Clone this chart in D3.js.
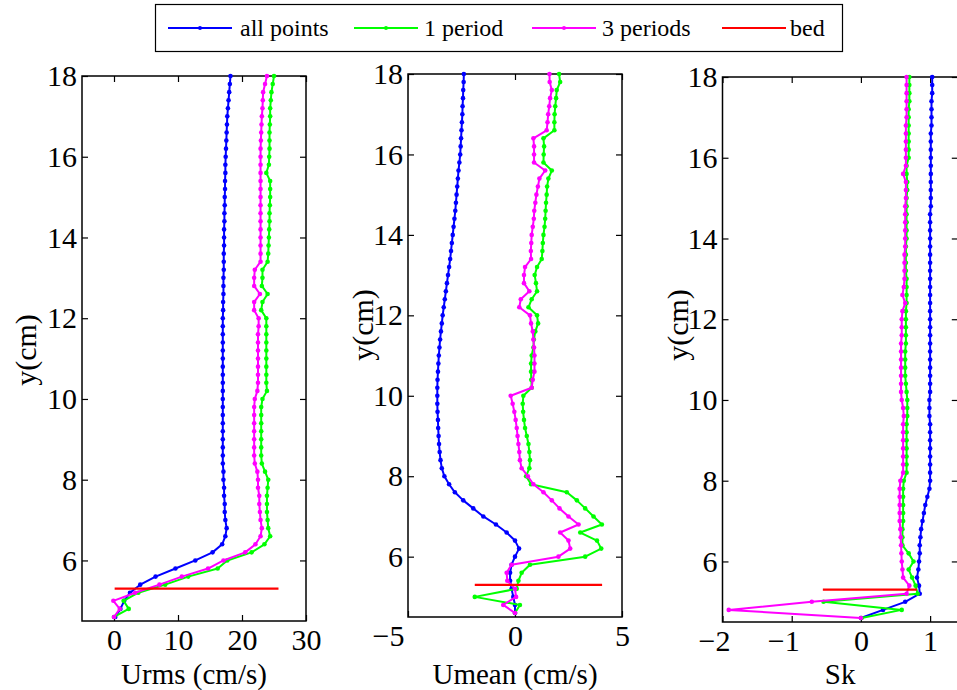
<!DOCTYPE html>
<html>
<head>
<meta charset="utf-8">
<script src="https://cdnjs.cloudflare.com/ajax/libs/d3/7.8.5/d3.min.js"></script>
<style>
  body { margin: 0; background: #fff; }
  svg text { font-family: "Liberation Serif", "Times New Roman", serif; fill: #000; }
</style>
</head>
<body>
<div id="chart"></div>
<script>
// Measurement heights (cm), bottom to top
var yLevels = [4.6, 4.8, 5.0, 5.2, 5.4, 5.6, 5.8, 6.0, 6.2, 6.4,
  6.6, 6.8, 7.0, 7.2, 7.4, 7.6, 7.8, 8.0, 8.2, 8.4,
  8.6, 8.8, 9.0, 9.2, 9.4, 9.6, 9.8, 10.0, 10.2, 10.4,
  10.6, 10.8, 11.0, 11.2, 11.4, 11.6, 11.8, 12.0, 12.2, 12.4,
  12.6, 12.8, 13.0, 13.2, 13.4, 13.6, 13.8, 14.0, 14.2, 14.4,
  14.6, 14.8, 15.0, 15.2, 15.4, 15.6, 15.8, 16.0, 16.2, 16.4,
  16.6, 16.8, 17.0, 17.2, 17.4, 17.6, 17.8, 18.0];

// Urms (cm/s)
var urmsAll = [0.2, 1.0, 1.6, 2.5, 4.1, 6.5, 9.6, 12.7, 15.4, 16.9,
  17.4, 17.6, 17.4, 17.3, 17.3, 17.2, 17.2, 17.1, 17.1, 17.0,
  17.0, 17.0, 17.0, 17.0, 17.0, 17.0, 17.0, 17.0, 17.0, 17.0,
  17.0, 17.0, 17.0, 17.0, 17.0, 17.0, 17.0, 17.0, 17.05, 17.05,
  17.1, 17.1, 17.1, 17.15, 17.15, 17.15, 17.2, 17.2, 17.2, 17.25,
  17.25, 17.3, 17.3, 17.35, 17.35, 17.4, 17.4, 17.45, 17.5, 17.55,
  17.6, 17.65, 17.7, 17.8, 17.9, 18.0, 18.1, 18.2];
var urms1 = [0.0, 2.3, 1.5, 3.8, 8.0, 11.6, 16.2, 17.7, 21.5, 23.5,
  24.4, 24.1, 24.0, 23.9, 23.9, 23.9, 24.0, 24.1, 23.6, 23.1,
  23.0, 23.0, 23.0, 23.0, 23.0, 23.0, 23.0, 23.2, 23.9, 23.8,
  23.8, 23.8, 23.8, 23.8, 23.8, 23.8, 23.8, 23.8, 23.0, 23.2,
  24.0, 23.1, 23.2, 23.2, 24.0, 24.1, 24.15, 24.2, 24.25, 24.3,
  24.3, 24.35, 24.4, 24.4, 24.4, 23.8, 24.2, 24.25, 24.3, 24.3,
  24.3, 24.35, 24.4, 24.4, 24.5, 24.6, 24.8, 25.0];
var urms3 = [0.0, 0.9, -0.1, 3.3, 7.1, 10.6, 14.7, 17.1, 20.5, 22.1,
  22.9, 23.1, 22.9, 22.8, 22.7, 22.7, 22.5, 22.5, 22.4, 22.0,
  21.9, 21.9, 21.9, 21.9, 21.9, 21.9, 21.9, 22.0, 22.4, 22.5,
  22.5, 22.5, 22.5, 22.5, 22.5, 22.5, 22.6, 22.6, 21.9, 21.9,
  22.8, 21.9, 21.9, 22.0, 22.9, 22.9, 22.9, 22.9, 22.9, 22.9,
  22.9, 22.9, 22.9, 22.9, 22.9, 22.9, 22.9, 22.9, 22.9, 22.95,
  23.0, 23.05, 23.1, 23.2, 23.25, 23.3, 23.6, 23.9];

// Umean (cm/s)
var umeanAll = [0.0, 0.0, -0.08, -0.16, -0.23, -0.23, -0.16, 0.0, 0.19, 0.0,
  -0.39, -0.89, -1.48, -1.95, -2.42, -2.81, -3.08, -3.3, -3.42, -3.48,
  -3.52, -3.55, -3.57, -3.59, -3.6, -3.62, -3.63, -3.63, -3.63, -3.62,
  -3.6, -3.58, -3.56, -3.53, -3.5, -3.46, -3.42, -3.38, -3.33, -3.28,
  -3.23, -3.18, -3.13, -3.08, -3.03, -2.99, -2.95, -2.91, -2.87, -2.83,
  -2.79, -2.76, -2.73, -2.7, -2.67, -2.64, -2.6, -2.56, -2.54, -2.52,
  -2.5, -2.48, -2.46, -2.45, -2.43, -2.42, -2.4, -2.39];
var umean1 = [0.0, 0.23, -1.88, 0.08, 0.16, 0.31, 0.70, 3.28, 4.03, 3.83,
  3.05, 4.06, 3.67, 3.28, 2.89, 2.42, 0.75, 0.52, 0.67, 0.7,
  0.67, 0.63, 0.55, 0.47, 0.42, 0.38, 0.36, 0.39, 0.78, 0.76,
  0.75, 0.75, 0.78, 0.86, 0.88, 0.95, 1.08, 1.03, 0.63, 0.78,
  1.03, 0.98, 0.92, 1.03, 1.25, 1.28, 1.3, 1.33, 1.38, 1.41,
  1.43, 1.45, 1.48, 1.5, 1.56, 1.72, 1.33, 1.34, 1.36, 1.33,
  1.84, 1.84, 1.85, 1.88, 1.92, 1.95, 2.11, 2.06];
var umean3 = [0.0, -0.55, 0.05, 0.0, -0.36, -0.39, -0.16, 2.03, 2.58, 2.5,
  2.11, 2.97, 2.5, 2.08, 1.72, 1.33, 0.86, 0.6, 0.31, 0.23,
  0.2, 0.16, 0.12, 0.08, 0.03, -0.03, -0.11, -0.2, 0.78, 0.83,
  0.91, 0.91, 0.91, 0.89, 0.86, 0.83, 0.75, 0.7, 0.2, 0.27,
  0.67, 0.42, 0.42, 0.47, 0.75, 0.74, 0.76, 0.78, 0.83, 0.88,
  0.9, 0.95, 1.0, 1.07, 1.14, 1.41, 0.89, 0.89, 0.89, 0.86,
  1.48, 1.52, 1.55, 1.6, 1.64, 1.72, 1.62, 1.61];

// Sk
var skAll = [0.0, 0.32, 0.64, 0.85, 0.84, 0.81, 0.83, 0.84, 0.85, 0.85,
  0.86, 0.87, 0.89, 0.91, 0.93, 0.96, 0.99, 1.0, 1.0, 1.0,
  1.0, 1.0, 1.0, 1.0, 1.0, 0.99, 0.99, 0.99, 1.0, 1.0,
  1.0, 1.0, 1.0, 1.0, 1.0, 1.0, 1.0, 1.0, 1.0, 1.0,
  1.0, 1.0, 1.0, 1.0, 1.0, 1.0, 1.0, 1.0, 1.0, 1.0,
  1.0, 1.01, 1.01, 1.01, 1.01, 1.01, 1.01, 1.01, 1.01, 1.01,
  1.01, 1.02, 1.02, 1.02, 1.02, 1.03, 1.03, 1.03];
var sk1 = [0.01, 0.59, -0.54, 0.82, 0.79, 0.74, 0.69, 0.76, 0.69, 0.6,
  0.6, 0.6, 0.61, 0.61, 0.61, 0.61, 0.61, 0.62, 0.66, 0.66,
  0.66, 0.66, 0.66, 0.66, 0.66, 0.67, 0.67, 0.67, 0.66, 0.65,
  0.64, 0.64, 0.64, 0.64, 0.65, 0.65, 0.65, 0.65, 0.65, 0.66,
  0.66, 0.66, 0.66, 0.65, 0.65, 0.65, 0.65, 0.66, 0.66, 0.66,
  0.66, 0.66, 0.66, 0.67, 0.67, 0.66, 0.66, 0.69, 0.69, 0.69,
  0.69, 0.69, 0.69, 0.69, 0.7, 0.7, 0.7, 0.7];
var sk3 = [0.0, -1.91, -0.71, 0.66, 0.70, 0.61, 0.60, 0.59, 0.585, 0.58,
  0.575, 0.57, 0.56, 0.56, 0.56, 0.56, 0.56, 0.57, 0.61, 0.61,
  0.61, 0.61, 0.61, 0.61, 0.61, 0.62, 0.61, 0.59, 0.58, 0.58,
  0.58, 0.58, 0.58, 0.58, 0.58, 0.59, 0.59, 0.59, 0.6, 0.64,
  0.6, 0.62, 0.63, 0.63, 0.63, 0.63, 0.64, 0.64, 0.64, 0.64,
  0.64, 0.64, 0.65, 0.65, 0.65, 0.61, 0.65, 0.65, 0.65, 0.65,
  0.65, 0.65, 0.66, 0.66, 0.66, 0.66, 0.66, 0.66];

// Bed level and its horizontal extent in each panel
var bedLevel = 5.3;
var bedUrms = [0.1, 25.7];
var bedUmean = [-1.88, 4.07];
var bedSk = [-0.55, 0.81];

// Tick values
var yTicks = [6, 8, 10, 12, 14, 16, 18];
var urmsTicks = [0, 10, 20, 30];
var umeanTicks = [-5, 0, 5];
var skTicks = [-2, -1, 0, 1];

var seriesNames = ["all points", "1 period", "3 periods", "bed"];
var seriesColors = ["#0000ff", "#00ff00", "#ff00ff", "#ff0000"];

// SVG area
var svgWidth = 957;
var svgHeight = 690;

var svg = d3.select("#chart")
  .append("svg")
  .attr("width", svgWidth)
  .attr("height", svgHeight);

// Panel layout (negShift: where negative tick labels end, relative to the tick)
var panels = [
  { left: 82, right: 306, top: 76, bottom: 621, xDomain: [-5, 30], xTicks: urmsTicks, negShift: 7.5,
    xLabel: "Urms (cm/s)", series: [urmsAll, urms1, urms3], bed: bedUrms, yLabelX: 36, yLabelY: 350 },
  { left: 408, right: 622, top: 74, bottom: 617, xDomain: [-5, 5], xTicks: umeanTicks, negShift: -4,
    xLabel: "Umean (cm/s)", series: [umeanAll, umean1, umean3], bed: bedUmean, yLabelX: 373, yLabelY: 325 },
  { left: 722.5, right: 957.8, top: 77, bottom: 622, xDomain: [-2, 1.4], xTicks: skTicks, negShift: 7.5,
    xLabel: "Sk", series: [skAll, sk1, sk3], bed: bedSk, yLabelX: 688, yLabelY: 325 }
];

var fontSize = 30;
var tickLen = 6;

panels.forEach(function(p) {
  var x = d3.scaleLinear().domain(p.xDomain).range([p.left, p.right]);
  var y = d3.scaleLinear().domain([4.5, 18]).range([p.bottom, p.top]);

  var g = svg.append("g");

  // Axes with ticks pointing inward on all four sides
  var axes = [
    { axis: d3.axisBottom(x).tickValues(p.xTicks).tickFormat(d3.format("d")).tickPadding(8), t: `translate(0,${p.bottom})` },
    { axis: d3.axisTop(x).tickValues(p.xTicks).tickFormat(""), t: `translate(0,${p.top})` },
    { axis: d3.axisLeft(y).tickValues(yTicks).tickFormat(d3.format("d")).tickPadding(5), t: `translate(${p.left},0)` },
    { axis: d3.axisRight(y).tickValues(yTicks).tickFormat(""), t: `translate(${p.right},0)` }
  ];
  axes.forEach(function(a, ai) {
    var ag = g.append("g")
      .attr("transform", a.t)
      .call(a.axis.tickSizeInner(-tickLen).tickSizeOuter(0));
    ag.select(".domain").remove();
    ag.selectAll(".tick line").attr("stroke", "#000").attr("stroke-width", 1.2);
    ag.selectAll("text")
      .attr("font-family", "Liberation Serif, Times New Roman, serif")
      .attr("font-size", fontSize)
      .attr("fill", "#000");
    if (ai === 0) {
      ag.selectAll(".tick text")
        .filter(function(d) { return d < 0; })
        .attr("text-anchor", "end")
        .attr("x", p.negShift);
    }
  });

  // Frame
  g.append("rect")
    .attr("x", p.left)
    .attr("y", p.top)
    .attr("width", p.right - p.left)
    .attr("height", p.bottom - p.top)
    .attr("fill", "none")
    .attr("stroke", "#000")
    .attr("stroke-width", 1.5);

  // Series lines with dot markers
  var drawLine = d3.line()
    .x(function(d) { return x(d[0]); })
    .y(function(d) { return y(d[1]); });

  p.series.forEach(function(vals, i) {
    var pts = vals.map(function(v, k) { return [v, yLevels[k]]; });
    g.append("path")
      .attr("d", drawLine(pts))
      .attr("fill", "none")
      .attr("stroke", seriesColors[i])
      .attr("stroke-width", 2)
      .attr("stroke-linejoin", "round");
    g.append("g").selectAll("circle")
      .data(pts)
      .enter()
      .append("circle")
      .attr("cx", function(d) { return x(d[0]); })
      .attr("cy", function(d) { return y(d[1]); })
      .attr("r", 2.3)
      .attr("fill", seriesColors[i]);
  });

  // Bed line
  g.append("path")
    .attr("d", drawLine(p.bed.map(function(v) { return [v, bedLevel]; })))
    .attr("stroke", seriesColors[3])
    .attr("stroke-width", 2.2)
    .attr("fill", "none");

  // Axis labels
  g.append("text")
    .attr("x", (p.left + p.right) / 2)
    .attr("y", 683.5)
    .attr("text-anchor", "middle")
    .attr("font-size", 29)
    .text(p.xLabel);

  g.append("text")
    .attr("transform", `translate(${p.yLabelX},${p.yLabelY}) rotate(-90)`)
    .attr("text-anchor", "middle")
    .attr("font-size", fontSize)
    .text("y(cm)");
});

// Legend
var legend = svg.append("g");
legend.append("rect")
  .attr("x", 155.5)
  .attr("y", 4.5)
  .attr("width", 687)
  .attr("height", 47)
  .attr("fill", "#fff")
  .attr("stroke", "#000")
  .attr("stroke-width", 1.2);

var legLineX = [168, 354, 532, 722];
var legTextX = [240, 424, 602, 790];
seriesNames.forEach(function(name, i) {
  legend.append("line")
    .attr("x1", legLineX[i])
    .attr("x2", legLineX[i] + 64)
    .attr("y1", 28)
    .attr("y2", 28)
    .attr("stroke", seriesColors[i])
    .attr("stroke-width", 2);
  if (i < 3) {
    legend.append("circle")
      .attr("cx", legLineX[i] + 32)
      .attr("cy", 28)
      .attr("r", 2)
      .attr("fill", seriesColors[i]);
  }
  legend.append("text")
    .attr("x", legTextX[i])
    .attr("y", 36)
    .attr("font-size", 24)
    .text(name);
});
</script>
</body>
</html>
